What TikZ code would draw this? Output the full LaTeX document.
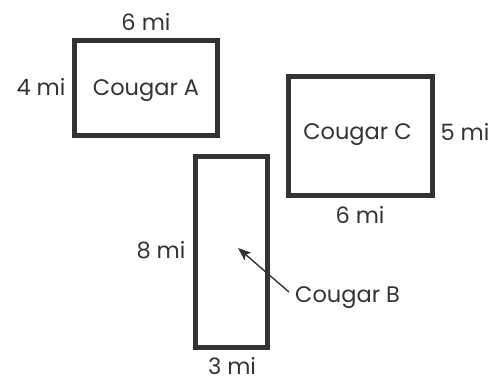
\documentclass[tikz,border=0pt]{standalone}
\usepackage{fontspec}
\setmainfont{Poppins}
\usetikzlibrary{arrows, arrows.meta, positioning}
\definecolor{ink}{RGB}{51,51,51}
\tikzstyle{homerange} = [rectangle, draw=ink, line width=5pt, inner sep=0pt]
\tikzstyle{dim} = [text=ink, font=\fontsize{22.5}{26}\selectfont, inner sep=0pt, text depth=0pt]
\tikzstyle{arrow} = [draw=ink, line width=1.4pt, -{Stealth[length=13pt, width=10pt, inset=3pt]}]

\begin{document}
\begin{tikzpicture}[x=1pt, y=-1pt]
                        \useasboundingbox (0,0) rectangle (500,382);
                        \node (A) [homerange, minimum width=143pt, minimum height=94.5pt] at (146,88.25) {};
                        \node (C) [homerange, minimum width=144pt, minimum height=119pt] at (360.5,136) {};
                        \node (B) [homerange, minimum width=72pt, minimum height=191pt] at (231.5,252) {};
                        \node (NA) [dim] at (146,87.5) {Cougar A};
                        \node (NC) [dim] at (357.5,132) {Cougar C};
                        \node (NB) [dim, anchor=west] at (295,295) {Cougar B};
                        \node (Atop) [dim] at (146,21.5) {6 mi};
                        \node (Aleft) [dim] at (41,87) {4 mi};
                        \node (Cright) [dim] at (465,132) {5 mi};
                        \node (Cbot) [dim] at (360,215) {6 mi};
                        \node (Bleft) [dim] at (161,250) {8 mi};
                        \node (Bbot) [dim] at (232,366) {3 mi};
                        \coordinate (Bin) at (238,248);
                        \draw [arrow] (NB.west) ++(-6,-3) -- (Bin);
                    \end{tikzpicture}
\end{document}
